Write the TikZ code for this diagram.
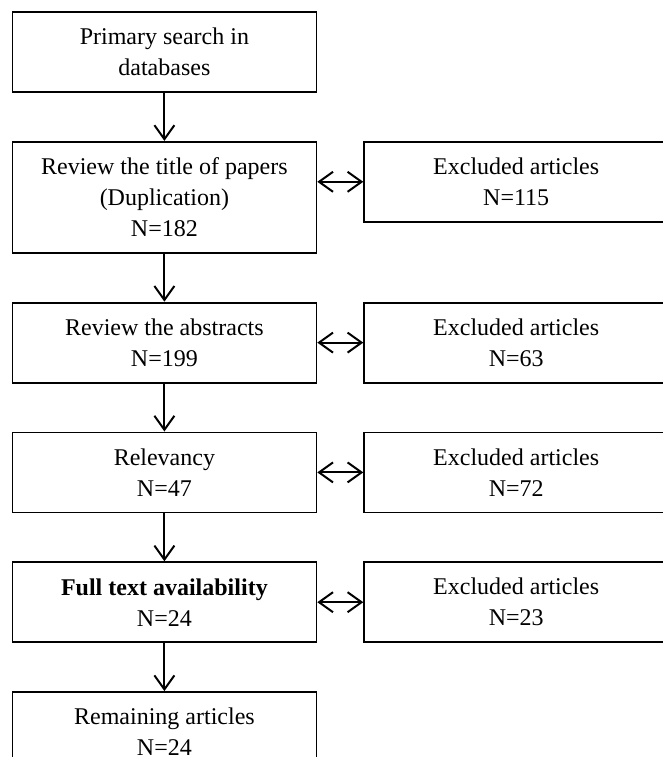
\documentclass[tikz,border=0pt]{standalone}
\usepackage{fontspec}
\setmainfont{Liberation Serif}
\usetikzlibrary{arrows.meta, positioning}

\begin{document}
\begin{tikzpicture}[
            > = {Straight Barb[length=7pt, width=10pt]}, % arrow head style
            node distance = 24pt, % distance between boxes
            line width = 1pt % line style
        ]

        \tikzstyle{box}=[
            draw = black,
            line width = 0.9pt,
            fill = white,
            minimum width = 152pt,
            minimum height = 40pt,
            align = center,
            font = \fontsize{12pt}{15.5pt}\selectfont
        ]

        \useasboundingbox (0,0) rectangle (331.5pt,-378.5pt);

        % main column
        \node[box] (search) at (82.2pt,-26pt) {Primary search in\\databases};
        \node[box, minimum height=55.5pt] (title) [below=of search] {Review the title of papers\\(Duplication)\\N=182};
        \node[box] (abstr) [below=of title] {Review the abstracts\\N=199};
        \node[box] (relev) [below=of abstr] {Relevancy\\N=47};
        \node[box] (full) [below=of relev] {\textbf{Full text availability}\\N=24};
        \node[box] (remain) [below=of full] {Remaining articles\\N=24};

        % excluded column
        \node[box] (ex1) [right=23pt of title.north east, anchor=north west] {Excluded articles\\N=115};
        \node[box] (ex2) [right=23pt of abstr] {Excluded articles\\N=63};
        \node[box] (ex3) [right=23pt of relev] {Excluded articles\\N=72};
        \node[box] (ex4) [right=23pt of full] {Excluded articles\\N=23};

        \path[->] (search) edge (title);
        \path[->] (title) edge (abstr);
        \path[->] (abstr) edge (relev);
        \path[->] (relev) edge (full);
        \path[->] (full) edge (remain);

        \path[<->] (title.east |- ex1.west) edge (ex1.west);
        \path[<->] (abstr) edge (ex2);
        \path[<->] (relev) edge (ex3);
        \path[<->] (full) edge (ex4);

  \end{tikzpicture}
\end{document}
